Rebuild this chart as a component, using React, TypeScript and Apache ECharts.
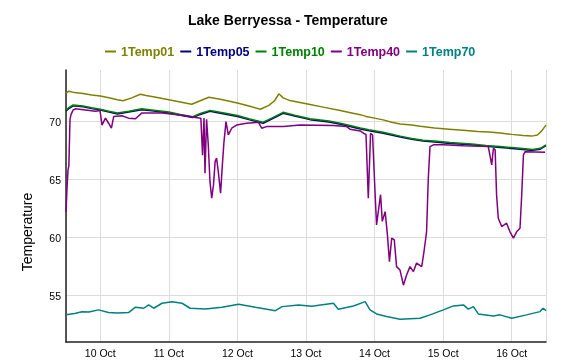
import React, { useEffect, useRef } from "react";
import * as echarts from "echarts";

// hours since 9 Oct 12:00, value
const seriesNames = ["1Temp01", "1Temp05", "1Temp10", "1Temp40", "1Temp70"];
const seriesColors = ["#808000", "#000080", "#008000", "#800080", "#008080"];
const dayLabels = ["10 Oct", "11 Oct", "12 Oct", "13 Oct", "14 Oct", "15 Oct", "16 Oct"];
const yTicks = [55, 60, 65, 70];

const temp01: number[][] = [
  [0, 72.45], [1, 72.62], [3, 72.5], [6, 72.42], [9, 72.3], [12, 72.2], [15, 72.05], [18, 71.88], [20, 71.8],
  [23, 72.05], [26, 72.36], [28, 72.25], [31, 72.12], [36, 71.88], [40, 71.7], [44, 71.5], [47, 71.8], [50, 72.1],
  [54, 71.92], [60, 71.6], [64, 71.35], [68, 71.07], [71, 71.4], [73, 71.8], [74.5, 72.4], [76, 72.05], [78, 71.85],
  [81, 71.7], [85, 71.5], [90, 71.25], [96, 70.95], [100, 70.75], [103, 70.6], [105, 70.45], [108, 70.3], [111, 70.15],
  [114, 69.95], [117, 69.8], [121, 69.7], [124, 69.6], [129, 69.45], [134, 69.35], [139, 69.25], [144, 69.15],
  [148, 69.1], [152, 69.02], [156, 68.9], [160, 68.8], [163, 68.75], [165, 68.85], [166.5, 69.2], [168, 69.7],
];

const temp05: number[][] = [
  [0, 70.92], [1, 71.12], [2.5, 71.36], [6, 71.28], [9, 71.12], [12, 71.0], [15, 70.82], [18, 70.66], [22, 70.82],
  [26.5, 71.02], [30, 70.93], [36, 70.74], [40, 70.54], [44.4, 70.35], [47, 70.62], [50.4, 70.9], [54, 70.73],
  [60, 70.44], [64, 70.17], [69, 69.86], [72, 70.22], [76, 70.72], [80, 70.48], [85.4, 70.17], [92, 69.97],
  [96, 69.77], [99.4, 69.58], [103, 69.37], [106, 69.22], [111, 69.0], [117, 68.67], [121, 68.47], [125, 68.32],
  [130, 68.22], [134.4, 68.12], [142, 68.0], [147, 67.87], [152, 67.77], [158, 67.64], [163.4, 67.52], [166, 67.62],
  [168, 67.93],
];

const temp10: number[][] = [
  [0, 71.0], [1, 71.2], [2.5, 71.44], [6, 71.35], [9, 71.2], [12, 71.07], [15, 70.9], [18, 70.75], [22, 70.9],
  [26.5, 71.1], [30, 71.0], [36, 70.82], [40, 70.62], [44.4, 70.43], [47, 70.7], [50.4, 70.97], [54, 70.8],
  [60, 70.52], [64, 70.25], [69, 69.95], [72, 70.3], [76, 70.8], [80, 70.55], [85.4, 70.25], [92, 70.05],
  [96, 69.85], [99.4, 69.66], [103, 69.45], [106, 69.3], [111, 69.08], [117, 68.75], [121, 68.55], [125, 68.4],
  [130, 68.3], [134.4, 68.2], [142, 68.08], [147, 67.95], [152, 67.85], [158, 67.72], [163.4, 67.6], [166, 67.7],
  [168, 68.0],
];

const temp40: number[][] = [
  [0, 62.2], [0.4, 64.5], [0.7, 65.8], [1.0, 66.2], [1.4, 70.2], [1.75, 70.6], [2.5, 71.0], [3.3, 71.1], [10.3, 70.9],
  [11.9, 70.95], [12.6, 69.7], [13.8, 70.3], [14.9, 69.86], [15.9, 69.43], [16.7, 70.45], [19.6, 70.5], [21.9, 70.3],
  [24.3, 70.25], [26.6, 70.75], [33.6, 70.75], [40.6, 70.55], [45.3, 70.35], [47.2, 70.3], [47.8, 67.1], [48.3, 70.3],
  [48.65, 65.55], [49.2, 70.2], [49.8, 68.0], [50.4, 64.8], [51.0, 63.4], [51.6, 64.5], [52.2, 66.55], [52.7, 66.85],
  [53.3, 65.7], [54.1, 63.83], [54.8, 66.55], [55.3, 68.28], [56.0, 70.0], [56.8, 68.85], [58.0, 69.43], [59.7, 69.7],
  [63.2, 69.86], [67.3, 69.95], [68.5, 69.43], [70.2, 69.57], [76.1, 69.57], [81.9, 69.7], [93.5, 69.66],
  [98.2, 69.57], [99.4, 69.35], [103, 69.2], [104.1, 69.0], [105, 68.9], [105.8, 63.4], [106.6, 69.0], [107.3, 68.85],
  [108.2, 63.7], [108.7, 61.1], [109.6, 62.8], [110.1, 63.7], [110.7, 61.4], [111.7, 62.24], [112.5, 60.23],
  [113.2, 57.93], [114.0, 59.95], [114.9, 59.8], [115.7, 57.5], [116.9, 57.2], [118.1, 55.9], [119.2, 56.78],
  [120.4, 57.5], [121.6, 57.07], [122.7, 57.8], [124.5, 57.5], [125.3, 58.8], [126.2, 60.5], [126.8, 65.1],
  [127.4, 67.85], [128.6, 68.0], [132.1, 68.0], [139.1, 67.93], [147.8, 67.85], [149.0, 66.27], [149.6, 67.7],
  [150.2, 67.56], [150.7, 63.7], [151.3, 61.67], [152.5, 60.95], [154.2, 61.24], [155.4, 60.5], [156.6, 59.95],
  [157.7, 60.5], [158.9, 60.8], [159.5, 63.7], [160.1, 67.13], [160.7, 67.41], [167.7, 67.36],
];

const temp70: number[][] = [
  [0, 53.34], [3, 53.45], [5.6, 53.6], [8, 53.58], [11.4, 53.77], [14.9, 53.54], [18, 53.5], [21.9, 53.54],
  [24.3, 54.0], [27.2, 53.91], [28.9, 54.2], [30.7, 53.91], [33.6, 54.34], [37.1, 54.46], [40.6, 54.34],
  [43.5, 53.91], [48.8, 53.85], [54.6, 54.0], [60.4, 54.26], [66.3, 54.0], [73.3, 53.7], [75.6, 54.05],
  [81.4, 54.2], [86, 54.08], [93.6, 54.34], [95.3, 53.83], [100.6, 54.11], [104.7, 54.48], [106.4, 53.77],
  [108.7, 53.42], [112.2, 53.19], [116.9, 52.97], [123.9, 53.05], [127.4, 53.34], [132.1, 53.77], [135.6, 54.11],
  [139.1, 54.2], [140.8, 53.83], [142.6, 54.05], [144.3, 53.42], [149.6, 53.25], [151.9, 53.34], [156, 53.05],
  [161.2, 53.34], [165.9, 53.62], [167, 53.91], [168, 53.7],
];

const allSeries = [temp01, temp05, temp10, temp40, temp70];

const START = new Date(2023, 9, 9, 12, 0, 0).getTime();
const HOUR = 3600000;
const DAY = 24 * HOUR;

export default function App() {
  const ref = useRef<HTMLDivElement>(null);
  useEffect(() => {
    if (!ref.current) return;
    const chart = echarts.init(ref.current, null, { renderer: "svg" });
    const font = "Liberation Sans, Arial, sans-serif";
    chart.setOption({
      animation: false,
      title: {
        text: "Lake Berryessa - Temperature",
        left: 183,
        top: 8,
        textStyle: { fontSize: 14, fontWeight: "bold", color: "#000", fontFamily: font },
      },
      legend: {
        top: 40,
        left: 100,
        icon: "rect",
        itemWidth: 11,
        itemHeight: 2,
        itemGap: 6,
        textStyle: { fontSize: 12.5, fontWeight: "bold", fontFamily: font },
        data: seriesNames.map((n, i) => ({ name: n, textStyle: { color: seriesColors[i] } })),
      },
      grid: { left: 66, right: 16, top: 70, bottom: 20, containLabel: false },
      xAxis: {
        type: "time",
        min: START,
        max: START + 168 * HOUR,
        minInterval: DAY,
        maxInterval: DAY,
        axisLine: { lineStyle: { color: "#222", width: 1.5 } },
        axisTick: { show: false },
        axisLabel: {
          fontSize: 10.5,
          color: "#000",
          fontFamily: font,
          margin: 5,
          formatter: (v: number) => {
            const d = new Date(v);
            const idx = d.getDate() - 10;
            return dayLabels[idx] ?? "";
          },
        },
        splitLine: { show: true, lineStyle: { color: "#dddddd", width: 1 } },
      },
      yAxis: {
        type: "value",
        min: 51,
        max: 74.45,
        axisLine: { show: true, lineStyle: { color: "#222", width: 1.5 } },
        axisTick: { show: false },
        axisLabel: {
          fontSize: 10.5,
          color: "#000",
          fontFamily: font,
          margin: 5,
          showMinLabel: false,
          showMaxLabel: false,
          formatter: (v: number) => (yTicks.includes(v) ? String(v) : ""),
        },
        splitLine: { show: true, showMinLine: false, showMaxLine: false, lineStyle: { color: "#dddddd", width: 1 } },
      },
      graphic: [
        {
          type: "text",
          x: 27,
          y: 232,
          rotation: Math.PI / 2,
          style: {
            text: "Temperature",
            fontSize: 14,
            fontFamily: font,
            fill: "#000",
            align: "center",
            verticalAlign: "middle",
          },
        },
      ],
      series: allSeries.map((data, i) => ({
        name: seriesNames[i],
        type: "line",
        showSymbol: false,
        symbol: "none",
        color: seriesColors[i],
        lineStyle: { width: 1.5, color: seriesColors[i] },
        data: data.map(([h, v]) => [START + h * HOUR, v]),
      })),
    });
    return () => chart.dispose();
  }, []);
  return <div ref={ref} style={{ position: "fixed", left: 0, top: 0, width: 562, height: 362 }} />;
}
